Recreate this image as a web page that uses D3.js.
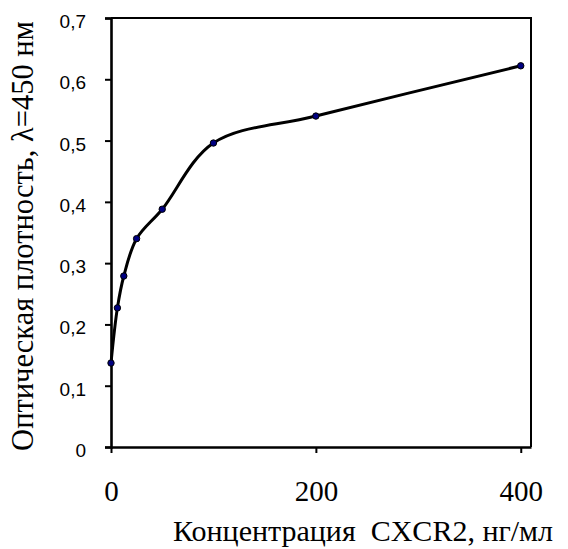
<!DOCTYPE html>
<html>
<head>
<meta charset="utf-8">
<script src="https://d3js.org/d3.v7.min.js"></script>
<style>
  body { margin: 0; background: #fff; }
  svg { display: block; }
</style>
</head>
<body>
<div id="chart"></div>
<script>
// concentration, ng/ml
const conc = [0, 6.25, 12.5, 25, 50, 100, 200, 400];
// optical density at 450 nm
const od = [0.137, 0.227, 0.279, 0.340, 0.388, 0.496, 0.540, 0.622];
const xTicks = [0, 200, 400];
const yTicks = [0, 0.1, 0.2, 0.3, 0.4, 0.5, 0.6, 0.7];

const width = 568, height = 549;
const margin = {left: 111, top: 18, right: 37, bottom: 102};

let svg = d3.select('#chart')
    .append('svg')
    .attr('width', width)
    .attr('height', height);

let x = d3.scaleLinear()
    .domain([0, 410])
    .range([margin.left, width - margin.right]);
let y = d3.scaleLinear()
    .domain([0, 0.7])
    .range([height - margin.bottom, margin.top]);

//plot frame: top and right
svg.append('path')
    .attr('d', 'M' + x(0) + ',' + y(0.7) + 'H' + x(410) + 'V' + y(0))
    .attr('fill', 'none')
    .attr('stroke', 'black')
    .attr('stroke-width', 2);

//y axis
let yAxis = svg.append('g')
    .attr('transform', 'translate(' + x(0) + ',0)')
    .call(d3.axisLeft(y).tickValues(yTicks).tickSize(6).tickPadding(19)
        .tickFormat(d => d3.format('.1f')(d).replace('.', ',').replace(/^0,0$/, '0')));
yAxis.select('.domain').attr('stroke-width', 2.6);
yAxis.selectAll('.tick line').attr('stroke-width', 2);
yAxis.selectAll('text')
    .attr('font-family', '"Liberation Sans", Arial, sans-serif')
    .attr('font-size', 19)
    .attr('fill', 'black')
    .attr('dy', '0.5em');

//x axis
let xAxis = svg.append('g')
    .attr('transform', 'translate(0,' + y(0) + ')')
    .call(d3.axisBottom(x).tickValues(xTicks).tickSize(6).tickSizeOuter(0).tickPadding(27));
xAxis.select('.domain').attr('stroke-width', 2.6);
xAxis.selectAll('.tick line').attr('stroke-width', 2);
xAxis.selectAll('text')
    .attr('font-family', '"Liberation Serif", "Times New Roman", serif')
    .attr('font-size', 29)
    .attr('fill', 'black');

//titles
svg.append('text')
    .attr('x', 173)
    .attr('y', 541)
    .attr('font-family', '"Liberation Serif", "Times New Roman", serif')
    .attr('font-size', 30)
    .style('white-space', 'pre')
    .text('Концентрация  CXCR2, нг/мл');

svg.append('text')
    .attr('transform', 'translate(33,236) rotate(-90)')
    .attr('text-anchor', 'middle')
    .attr('font-family', '"Liberation Serif", "Times New Roman", serif')
    .attr('font-size', 30.5)
    .text('Оптическая плотность, λ=450 нм');

//smoothed line
let line = d3.line()
    .x((d, i) => x(conc[i]))
    .y(d => y(d))
    .curve(d3.curveCatmullRom.alpha(0.5));

svg.append('path')
    .datum(od)
    .attr('d', line)
    .attr('fill', 'none')
    .attr('stroke', 'black')
    .attr('stroke-width', 3);

svg.append('g')
    .selectAll('circle')
    .data(od)
    .enter().append('circle')
      .attr('cx', (d, i) => x(conc[i]))
      .attr('cy', d => y(d))
      .attr('r', 3.2)
      .attr('fill', '#000080')
      .attr('stroke', 'black')
      .attr('stroke-width', 1);
</script>
</body>
</html>
